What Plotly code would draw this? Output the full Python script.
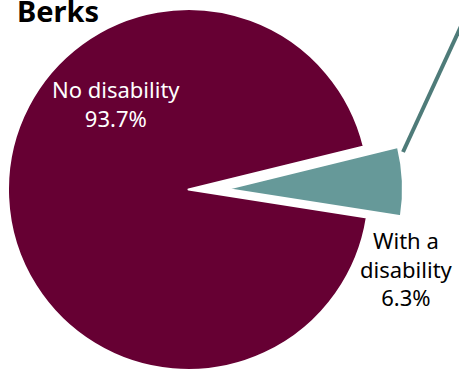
import plotly.graph_objects as go

# Disability status, Berks County
categories = ["No disability", "With a disability"]
shares = [93.7, 6.3]
colors = ["#660033", "#669999"]
title_text = "Berks"

W, H = 459, 373
ROTATION = 98.9  # puts the small slice just above 3 o'clock

def px_x(v):
    return v / W

def px_y(v):
    # pixel row from top -> paper fraction from bottom
    return 1 - v / H

fig = go.Figure()

# Large slice: full pie with the small slice left transparent
fig.add_trace(go.Pie(
    labels=categories, values=shares, sort=False, direction="clockwise",
    rotation=ROTATION, textinfo="none", hoverinfo="label+percent",
    marker=dict(colors=[colors[0], "rgba(0,0,0,0)"],
                line=dict(color=["white", "rgba(0,0,0,0)"], width=2)),
    domain=dict(x=[px_x(8), px_x(369)], y=[px_y(370), px_y(9)]),
    showlegend=False,
))

# Small slice, drawn from its own offset centre (exploded)
fig.add_trace(go.Pie(
    labels=categories, values=shares, sort=False, direction="clockwise",
    rotation=ROTATION, textinfo="none", hoverinfo="label+percent",
    marker=dict(colors=["rgba(0,0,0,0)", colors[1]],
                line=dict(color=["rgba(0,0,0,0)", "white"], width=2)),
    domain=dict(x=[px_x(51), px_x(403)], y=[px_y(365), px_y(13)]),
    showlegend=False,
))

label_font = dict(family="Noto Sans, Lato, sans-serif", size=22)

fig.add_annotation(
    x=px_x(116), y=px_y(104), xref="paper", yref="paper",
    xanchor="center", yanchor="middle",
    text=f"No disability<br>{shares[0]:.1f}%", showarrow=False,
    font=dict(color="white", **label_font), align="center",
)
fig.add_annotation(
    x=px_x(406), y=px_y(268), xref="paper", yref="paper",
    xanchor="center", yanchor="middle",
    text=f"With a<br>disability<br>{shares[1]:.1f}%", showarrow=False,
    font=dict(color="black", **label_font), align="center",
)
fig.add_annotation(
    x=px_x(15), y=px_y(-11), xref="paper", yref="paper",
    xanchor="left", yanchor="top",
    text=f"<b>{title_text}</b>", showarrow=False,
    font=dict(family="Noto Sans, Lato, sans-serif", size=29, color="black"),
)

# Leader line running off the top-right corner
fig.add_shape(
    type="line", xref="paper", yref="paper",
    x0=px_x(403), y0=px_y(152), x1=px_x(462), y1=px_y(24),
    line=dict(color="#4e7b79", width=4),
)

fig.update_layout(
    width=W, height=H, margin=dict(l=0, r=0, t=0, b=0),
    paper_bgcolor="white", plot_bgcolor="white",
)

fig.write_html("out.html")
